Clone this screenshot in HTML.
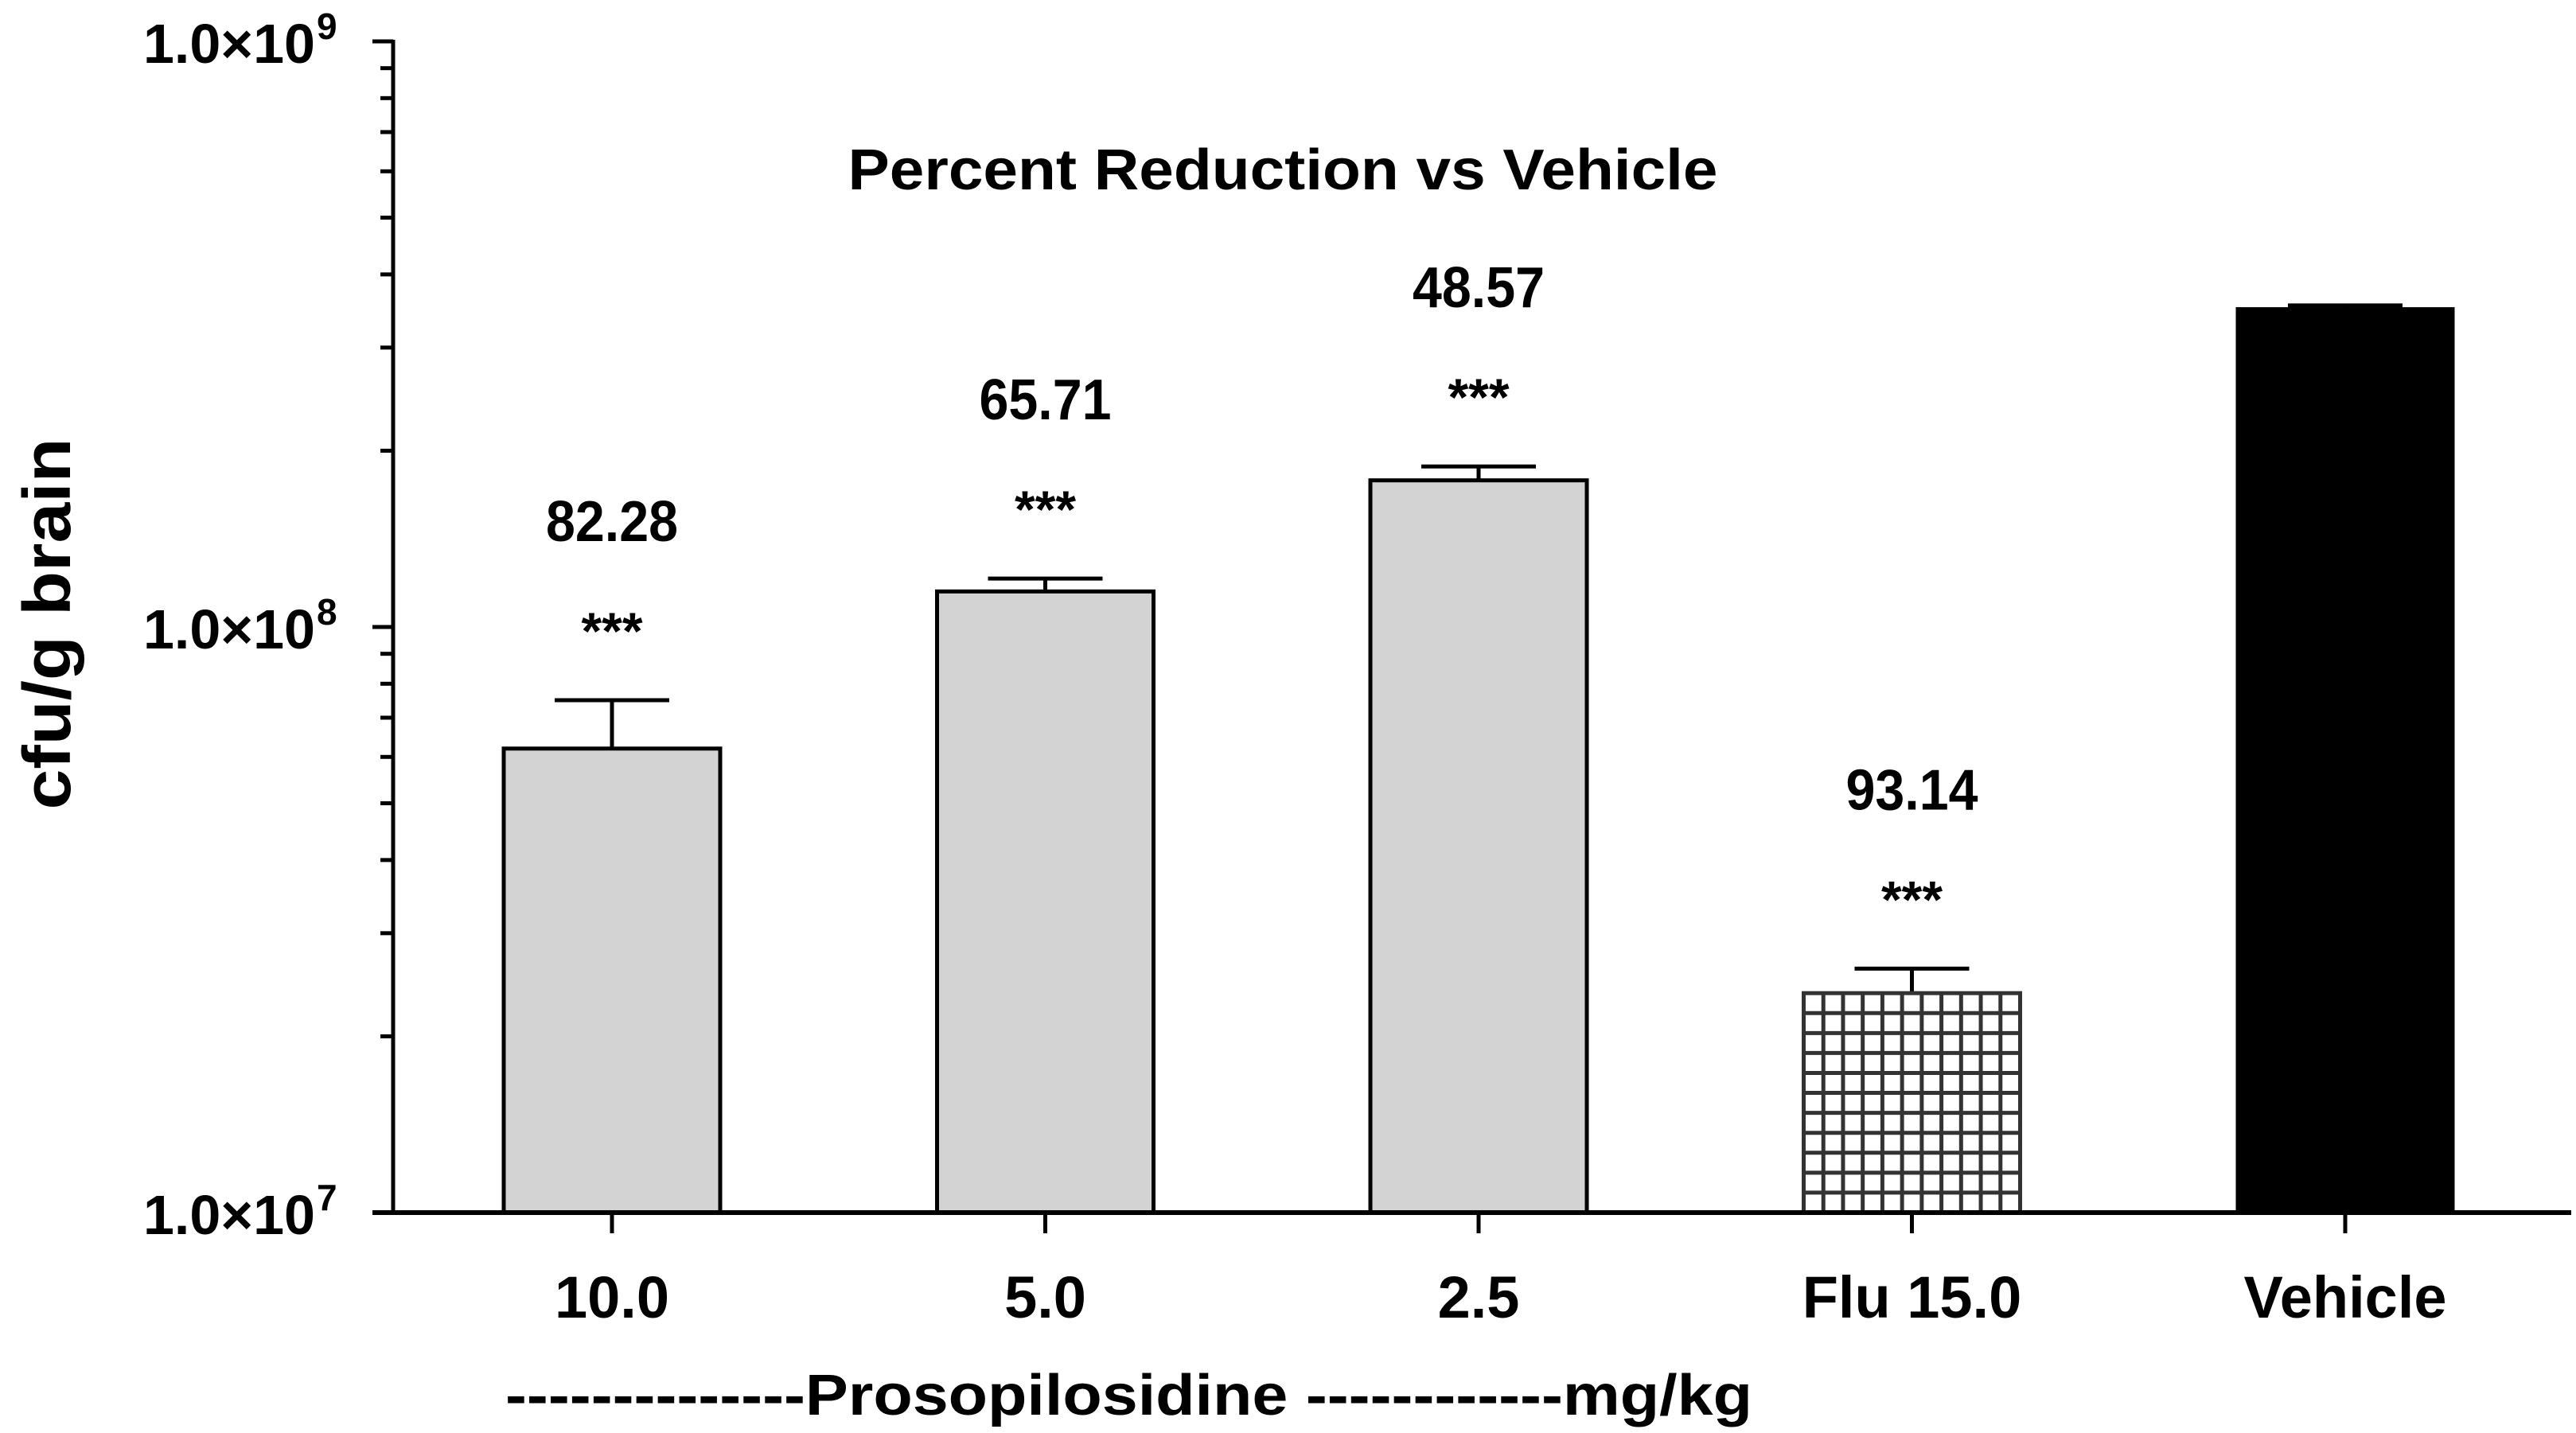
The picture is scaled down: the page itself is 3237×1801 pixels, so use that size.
<!DOCTYPE html>
<html><head><meta charset="utf-8"><style>
html,body{margin:0;padding:0;background:#fff;}
svg{display:block;font-family:"Liberation Sans",Arial,sans-serif;font-weight:bold;}
</style></head><body>
<svg id="chart" width="3237" height="1801" viewBox="0 0 3237 1801" xmlns="http://www.w3.org/2000/svg">
<rect x="0" y="0" width="3237" height="1801" fill="#fff"/>
</svg>
<script>
const categories = ["10.0", "5.0", "2.5", "Flu 15.0", "Vehicle"];
const means = [6.2e7, 1.15e8, 1.78e8, 2.37e7, 3.5e8];
const errors = [7.5e7, 1.21e8, 1.88e8, 2.61e7, 3.54e8];
const percentLabels = ["82.28", "65.71", "48.57", "93.14", ""];
const sigLabels = ["***", "***", "***", "***", ""];
const fills = ["gray", "gray", "gray", "hatch", "black"];
const yTickExps = [7, 8, 9];

const NS = "http://www.w3.org/2000/svg";
const svg = document.getElementById("chart");
const X0 = 494, X1 = 3231, YB = 1524, DEC = 736;
const firstCenter = 769, spacing = 544.5, barW = 272;
function yScale(v){ return YB - (Math.log10(v) - 7) * DEC; }
function xScale(i){ return firstCenter + i * spacing; }
function mk(tag, attrs, parent){
  const e = document.createElementNS(NS, tag);
  for (const k in attrs) e.setAttribute(k, attrs[k]);
  (parent || svg).appendChild(e);
  return e;
}

categories.forEach((c, i) => {
  const cx = xScale(i), top = yScale(means[i]), eTop = yScale(errors[i]);
  const g = mk("g", {});
  
  
  const eb = mk("line", {x1: cx, x2: cx, y1: top, y2: eTop, stroke: "#000", "stroke-width": 5}, g);
  
  
  const cap = mk("line", {x1: cx - 72, x2: cx + 72, y1: eTop, y2: eTop, stroke: "#000", "stroke-width": 5}, g);
  
  
  const x = cx - barW / 2;
  let r;
  if (fills[i] === "gray") {
    r = mk("rect", {x: x, y: top, width: barW, height: YB - top, fill: "#d3d3d3", stroke: "#000", "stroke-width": 5}, g);
  } else if (fills[i] === "black") {
    r = mk("rect", {x: x, y: top, width: barW, height: YB - top, fill: "#000", stroke: "#000", "stroke-width": 3}, g);
  } else {
    r = mk("rect", {x: x, y: top, width: barW, height: YB - top, fill: "#fff", stroke: "#333", "stroke-width": 5}, g);
    const cols = 11, cw = barW / cols;
    for (let k = 1; k < cols; k++) {
      mk("line", {x1: x + k * cw, x2: x + k * cw, y1: top, y2: YB, stroke: "#333", "stroke-width": 5}, g);
    }
    const rows = Math.max(1, Math.round((YB - top) / 24.5)), rh = (YB - top) / rows;
    for (let k = 1; k < rows; k++) {
      mk("line", {x1: x, x2: x + barW, y1: top + k * rh, y2: top + k * rh, stroke: "#333", "stroke-width": 5}, g);
    }
  }
  
  
  if (percentLabels[i]) {
    const pt = mk("text", {x: cx, y: eTop - 200, "text-anchor": "middle", "font-size": 72, textLength: 166, lengthAdjust: "spacingAndGlyphs"}, g);
    pt.textContent = percentLabels[i];
    
    
    const st = mk("text", {x: cx, y: eTop - 64, "text-anchor": "middle", "font-size": 66}, g);
    st.textContent = sigLabels[i];
    
    
  }
  mk("line", {x1: cx, x2: cx, y1: YB, y2: YB + 26, stroke: "#000", "stroke-width": 5}, g);
  const xl = mk("text", {x: cx, y: 1656, "text-anchor": "middle", "font-size": 74}, g);
  xl.textContent = c;
  
  
});

const ya = mk("line", {x1: X0, x2: X0, y1: 50, y2: YB + 2.5, stroke: "#000", "stroke-width": 5});


const xa = mk("line", {x1: X0 - 26, x2: X1, y1: YB, y2: YB, stroke: "#000", "stroke-width": 6});


for (let e = 7; e < 9; e++) {
  for (let m = 2; m <= 9; m++) {
    const y = yScale(m * Math.pow(10, e));
    mk("line", {x1: X0 - 16, x2: X0, y1: y, y2: y, stroke: "#000", "stroke-width": 5});
  }
}
yTickExps.forEach(e => {
  const y = yScale(Math.pow(10, e));
  mk("line", {x1: X0 - 26, x2: X0, y1: y, y2: y, stroke: "#000", "stroke-width": 5});
  const t = mk("text", {x: 396, y: y + 27, "text-anchor": "end", "font-size": 70});
  t.textContent = "1.0×10";
  
  
  const s = mk("text", {x: 398, y: y - 3, "font-size": 46});
  s.textContent = String(e);
  
  
});

const title = mk("text", {x: 1612, y: 238, "text-anchor": "middle", "font-size": 72, textLength: 1093, lengthAdjust: "spacingAndGlyphs"});
title.textContent = "Percent Reduction vs Vehicle";


const yt = mk("text", {x: 0, y: 0, "text-anchor": "middle", "font-size": 84, transform: "translate(88,784) rotate(-90)", textLength: 467, lengthAdjust: "spacingAndGlyphs"});
yt.textContent = "cfu/g brain";


const xt = mk("text", {x: 635, y: 1778, "font-size": 72, textLength: 1567, lengthAdjust: "spacingAndGlyphs"});
xt.textContent = "--------------Prosopilosidine ------------mg/kg";


</script>
</body></html>
